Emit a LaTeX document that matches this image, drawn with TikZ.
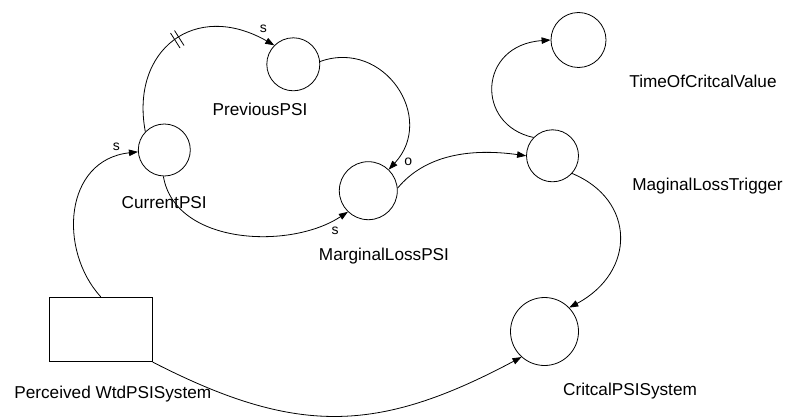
\documentclass[tikz,border=0pt]{standalone}
\usepackage{fontspec}
\setmainfont{Liberation Sans}
\usetikzlibrary{arrows.meta}
\begin{document}
\begin{tikzpicture}[x=1pt,y=-1pt,
  stock/.style={draw, circle, inner sep=0pt, line width=0.8pt},
  rectbox/.style={draw, line width=0.8pt, inner sep=0pt},
  lbl/.style={anchor=base, inner sep=0pt, font=\fontsize{17.2}{20}\selectfont},
  tag/.style={anchor=base, inner sep=0pt, font=\fontsize{14}{16}\selectfont},
  link/.style={line width=0.8pt, -{Triangle[length=9pt,width=6.5pt]}},
  plain/.style={line width=0.8pt},
]
\useasboundingbox (0,0) rectangle (786,417);

% stocks / variables
\node[stock, minimum size=53pt] (prev) at (293.3,64.3) {};
\node[stock, minimum size=52pt] (cur)  at (164.3,150) {};
\node[stock, minimum size=58pt] (mlp)  at (368.3,190.7) {};
\node[stock, minimum size=52pt] (trig) at (552.5,155.8) {};
\node[stock, minimum size=55pt] (time) at (578.5,40) {};
\node[stock, minimum size=68pt] (crit) at (544.5,331.5) {};
\node[rectbox, minimum width=103pt, minimum height=64.4pt] (pws) at (100.8,329.5) {};

% labels
\node[lbl] (prevL) at (260,116) {PreviousPSI};
\node[lbl] (curL)  at (164.2,208.3) {CurrentPSI};
\node[lbl] (mlpL)  at (384,260.7) {MarginalLossPSI};
\node[lbl] (timeL) at (703,87.3) {TimeOfCritcalValue};
\node[lbl] (trigL) at (707.5,190.7) {MaginalLossTrigger};
\node[lbl] (critL) at (630,395) {CritcalPSISystem};
\node[lbl] (pwsL)  at (112.8,398.3) {Perceived WtdPSISystem};

% connectors
\draw[link] (pws.north) .. controls (58,250) and (64,160) .. (cur.184);
\draw[link] (cur.136) .. controls (130,50) and (195,0) .. (prev.135);
\draw[link] (prev.6) .. controls (384,38.6) and (436.6,118) .. (mlp.46);
\draw[link] (cur.268) .. controls (175,245) and (290,250) .. (mlp.226);
\draw[link] (mlp.5) .. controls (425,155) and (470,148) .. (trig.180);
\draw[link] (trig.136) .. controls (475,125) and (478,45) .. (time.180);
\draw[link] (trig.318) .. controls (636,200) and (636,272) .. (crit.44);
\draw[link] (pws.south east) .. controls (296,435.5) and (377,434) .. (crit.228);

% delay mark on CurrentPSI -> PreviousPSI
\draw[plain] (170.5,33) -- (180,48);
\draw[plain] (174.5,30.5) -- (184,45.5);

% polarity tags
\node[tag] (s1) at (263.3,32.3) {s};
\node[tag] (s2) at (116.3,150.7) {s};
\node[tag] (o1) at (408.3,165) {o};
\node[tag] (s3) at (335,234) {s};
\end{tikzpicture}
\end{document}
